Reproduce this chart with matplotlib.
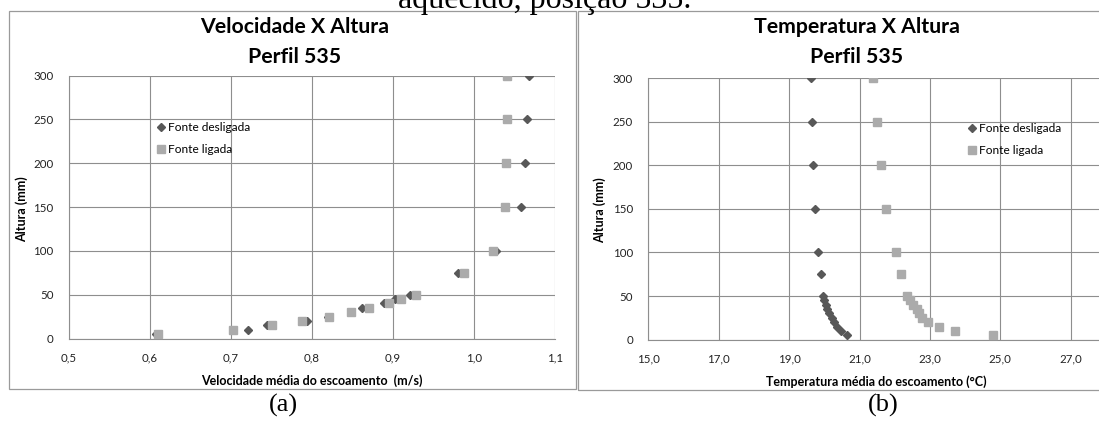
import matplotlib
matplotlib.use("Agg")
import matplotlib.pyplot as plt
from matplotlib.patches import Rectangle
from matplotlib.ticker import FuncFormatter

# ---------------- data ----------------
altura = [5, 10, 15, 20, 25, 30, 35, 40, 45, 50, 75, 100, 150, 200, 250, 300]

vel_desligada = [0.607, 0.721, 0.745, 0.794, 0.820, 0.848, 0.862, 0.889, 0.903, 0.921,
                 0.980, 1.027, 1.058, 1.063, 1.066, 1.068]
vel_ligada = [0.610, 0.702, 0.751, 0.788, 0.821, 0.848, 0.870, 0.895, 0.910, 0.928,
              0.988, 1.024, 1.038, 1.040, 1.041, 1.041]

temp_desligada = [20.65, 20.47, 20.37, 20.28, 20.21, 20.14, 20.09, 20.05, 20.00, 19.95,
                  19.90, 19.81, 19.73, 19.68, 19.66, 19.61]
temp_ligada = [24.78, 23.70, 23.27, 22.95, 22.78, 22.69, 22.63, 22.52, 22.43, 22.35,
               22.18, 22.04, 21.75, 21.60, 21.49, 21.37]

label_desl = "Fonte desligada"
label_lig = "Fonte ligada"

vel_ticks = [0.5, 0.6, 0.7, 0.8, 0.9, 1.0, 1.1]
temp_ticks = [15, 17, 19, 21, 23, 25, 27]
alt_ticks = [0, 50, 100, 150, 200, 250, 300]

title_a = ["Velocidade X Altura", "Perfil 535"]
title_b = ["Temperatura X Altura", "Perfil 535"]
xlabel_a = "Velocidade média do escoamento  (m/s)"
xlabel_b = "Temperatura média do escoamento (°C)"
ylabel = "Altura (mm)"
top_text = "aquecido, posição 535."

# ---------------- style ----------------
W, H = 1099, 423
fig = plt.figure(figsize=(W / 100, H / 100), dpi=100)
fig.patch.set_facecolor("white")

FONT = ["Lato", "DejaVu Sans"]
SERIF = ["Liberation Serif", "DejaVu Serif"]
C_DESL = "#585858"
C_LIG = "#ABABAB"
GRID = "#8E8E8E"


def fx(px):
    return px / W


def fy(py):
    return 1 - py / H


def comma1(v, pos):
    return ("%.1f" % v).replace(".", ",")


def make_axes(rect, xlim, xticks, xfmt):
    ax = fig.add_axes(rect)
    ax.set_xlim(*xlim)
    ax.set_ylim(0, 300)
    ax.set_xticks(xticks)
    ax.set_yticks(alt_ticks)
    ax.xaxis.set_major_formatter(FuncFormatter(xfmt))
    ax.grid(True, color=GRID, linewidth=0.8)
    ax.set_axisbelow(True)
    for s in ["top", "right"]:
        ax.spines[s].set_visible(False)
    for s in ["left", "bottom"]:
        ax.spines[s].set_color(GRID)
        ax.spines[s].set_linewidth(0.8)
    ax.tick_params(length=0, labelsize=8.3, colors="#222222")
    ax.tick_params(axis="x", pad=10)
    ax.tick_params(axis="y", pad=11)
    for lab in ax.get_xticklabels() + ax.get_yticklabels():
        lab.set_family(FONT)
    return ax


# chart frames
fig.add_artist(Rectangle((fx(9), fy(389)), fx(576) - fx(9), fy(11) - fy(389),
                         transform=fig.transFigure, fill=False, edgecolor="#9A9A9A", linewidth=0.9))
fig.add_artist(Rectangle((fx(578), fy(390)), fx(1200) - fx(578), fy(11) - fy(390),
                         transform=fig.transFigure, fill=False, edgecolor="#9A9A9A", linewidth=0.9,
                         clip_on=False))

LEG = dict(frameon=False, prop={"family": FONT, "size": 8.6}, handlelength=0.6,
           handletextpad=0.3, labelspacing=0.95, borderpad=0, borderaxespad=0, numpoints=1,
           loc="upper left")

# ---- chart (a) ----
ax1 = make_axes([fx(69), fy(338.5), fx(555) - fx(69), fy(75.7) - fy(338.5)],
                (0.5, 1.1), vel_ticks, comma1)
ax1.plot(vel_desligada, altura, linestyle="none", marker="D", markersize=4.0,
         color=C_DESL, label=label_desl, zorder=3)
ax1.plot(vel_ligada, altura, linestyle="none", marker="s", markersize=5.3,
         color=C_LIG, label=label_lig, zorder=4)
ax1.legend(bbox_to_anchor=(fx(157), fy(122)), bbox_transform=fig.transFigure, **LEG)
fig.text(fx(295), fy(27), title_a[0], ha="center", va="center",
         family=FONT, weight="bold", fontsize=15.3)
fig.text(fx(295), fy(57), title_a[1], ha="center", va="center",
         family=FONT, weight="bold", fontsize=15.3)
fig.text(fx(312), fy(381), xlabel_a, ha="center", va="center",
         family=FONT, weight="bold", fontsize=9)
fig.text(fx(22), fy(209), ylabel, ha="center", va="center", rotation=90,
         family=FONT, weight="bold", fontsize=9)

# ---- chart (b) ----
ax2 = make_axes([fx(648.3), fy(339.6), fx(648.3 + 7 * 70.4) - fx(648.3), fy(78) - fy(339.6)],
                (15, 29), temp_ticks, comma1)
ax2.plot(temp_desligada, altura, linestyle="none", marker="D", markersize=4.0,
         color=C_DESL, label=label_desl, zorder=3)
ax2.plot(temp_ligada, altura, linestyle="none", marker="s", markersize=5.3,
         color=C_LIG, label=label_lig, zorder=4)
ax2.legend(bbox_to_anchor=(fx(968.5), fy(123)), bbox_transform=fig.transFigure, **LEG)
fig.text(fx(857), fy(27), title_b[0], ha="center", va="center",
         family=FONT, weight="bold", fontsize=15.3)
fig.text(fx(857), fy(57), title_b[1], ha="center", va="center",
         family=FONT, weight="bold", fontsize=15.3)
fig.text(fx(876), fy(382), xlabel_b, ha="center", va="center",
         family=FONT, weight="bold", fontsize=9)
fig.text(fx(600), fy(210), ylabel, ha="center", va="center", rotation=90,
         family=FONT, weight="bold", fontsize=9)

# ---- surrounding document text ----
fig.text(fx(545), fy(8), top_text, ha="center", va="baseline", family=SERIF, fontsize=23)
fig.text(fx(283), fy(405), "(a)", ha="center", va="center", family=SERIF, fontsize=19)
fig.text(fx(883), fy(405), "(b)", ha="center", va="center", family=SERIF, fontsize=19)

fig.savefig("out.png", dpi=100, facecolor="white")
